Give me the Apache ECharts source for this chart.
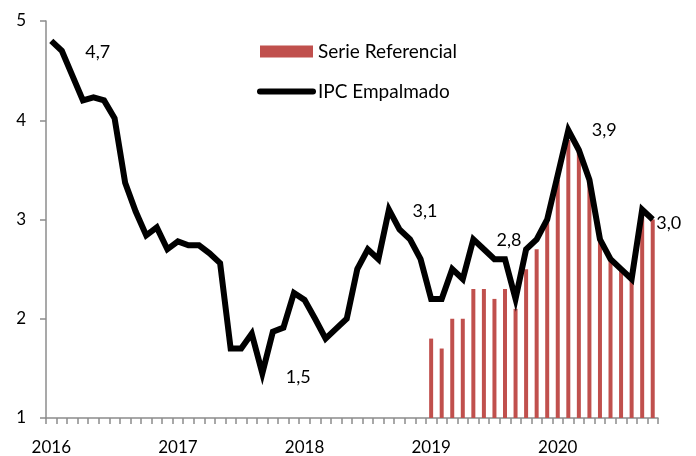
<!DOCTYPE html>
<html>
<head>
<meta charset="utf-8">
<script src="https://cdn.jsdelivr.net/npm/echarts@6/dist/echarts.min.js"></script>
<style>
html,body{margin:0;padding:0;background:#fff;}
#chart{width:696px;height:456px;}
</style>
</head>
<body>
<div id="chart"></div>
<script>
// Months Jan 2016 .. Oct 2020
const years = [2016, 2017, 2018, 2019, 2020];
const monthsPerYear = [12, 12, 12, 12, 10];
const ipcEmpalmado = [
  4.8, 4.7, 4.45, 4.2, 4.23, 4.2, 4.02, 3.37, 3.08, 2.84, 2.92, 2.7,
  2.78, 2.74, 2.74, 2.66, 2.56, 1.7, 1.7, 1.85, 1.45, 1.87, 1.91, 2.26,
  2.19, 2.0, 1.8, 1.9, 2.0, 2.5, 2.7, 2.6, 3.1, 2.9, 2.8, 2.6,
  2.2, 2.2, 2.5, 2.4, 2.8, 2.7, 2.6, 2.6, 2.2, 2.7, 2.8, 3.0,
  3.45, 3.9, 3.7, 3.4, 2.8, 2.6, 2.5, 2.4, 3.1, 3.0
];
const serieReferencial = [
  null, null, null, null, null, null, null, null, null, null, null, null,
  null, null, null, null, null, null, null, null, null, null, null, null,
  null, null, null, null, null, null, null, null, null, null, null, null,
  1.8, 1.7, 2.0, 2.0, 2.3, 2.3, 2.2, 2.3, 2.1, 2.5, 2.7, 3.0,
  3.4, 3.8, 3.7, 3.4, 2.8, 2.6, 2.5, 2.4, 3.1, 3.0
];
const yTicks = [1, 2, 3, 4, 5];
// annotated points: [month index, text]
const annotations = [[1, '4,7'], [20, '1,5'], [32, '3,1'], [43, '2,8'], [49, '3,9'], [57, '3,0']];

const categories = [];
years.forEach((y, k) => {
  for (let m = 0; m < monthsPerYear[k]; m++) categories.push(m === 0 ? String(y) : y + '-' + (m + 1));
});

const font = 'Lato';
const labelOffsets = { 1: [36, 1], 20: [36, 4], 32: [36, 2], 43: [4, -19], 49: [36, 0], 57: [16, 4] };
const annotationData = annotations.map(a => ({
  value: [a[0], ipcEmpalmado[a[0]]],
  label: { formatter: a[1], offset: labelOffsets[a[0]] }
}));

const chart = echarts.init(document.getElementById('chart'));
chart.setOption({
  animation: false,
  backgroundColor: '#fff',
  textStyle: { fontFamily: font },
  grid: { left: 46, right: 38, top: 21, bottom: 38 },
  legend: {
    orient: 'vertical', left: 252, top: 37, itemWidth: 53, itemHeight: 12, itemGap: 21,
    textStyle: { fontSize: 19, color: '#000', fontFamily: font },
    data: [
      { name: 'Serie Referencial', icon: 'rect' },
      { name: 'IPC Empalmado', itemStyle: { opacity: 0 }, lineStyle: { width: 6, cap: 'round' } }
    ]
  },
  xAxis: {
    type: 'category', data: categories, boundaryGap: true,
    axisLine: { lineStyle: { color: '#8c8c8c', width: 1.5 } },
    axisTick: { show: true, interval: 0, length: 6, lineStyle: { color: '#8c8c8c', width: 1.5 } },
    axisLabel: {
      interval: (i) => i % 12 === 0, formatter: (v) => v.indexOf('-') < 0 ? v : '',
      fontSize: 17, color: '#000', margin: 21, fontFamily: font
    },
    splitLine: { show: false }
  },
  yAxis: {
    type: 'value', min: yTicks[0], max: yTicks[yTicks.length - 1], interval: 1,
    axisLine: { show: true, lineStyle: { color: '#8c8c8c', width: 1.5 } },
    axisTick: { show: true, length: 6, lineStyle: { color: '#8c8c8c', width: 1.5 } },
    axisLabel: { fontSize: 17, color: '#000', margin: 20, fontFamily: font },
    splitLine: { show: false }
  },
  series: [
    {
      name: 'Serie Referencial', type: 'bar', data: serieReferencial, barWidth: 4,
      itemStyle: { color: '#c0504d' }, z: 1
    },
    {
      name: 'IPC Empalmado', type: 'line', data: ipcEmpalmado, symbol: 'none',
      lineStyle: { color: '#000', width: 6, join: 'miter' }, itemStyle: { color: '#000' }, z: 2
    },
    {
      name: 'annotations', type: 'scatter', data: annotationData, symbol: 'circle', symbolSize: 1,
      itemStyle: { color: '#000', opacity: 1 }, silent: true, z: 5,
      label: { show: true, position: 'inside', fontSize: 18, color: '#000', opacity: 1,
        textBorderWidth: 0, fontFamily: font }
    }
  ]
});
</script>
</body>
</html>
